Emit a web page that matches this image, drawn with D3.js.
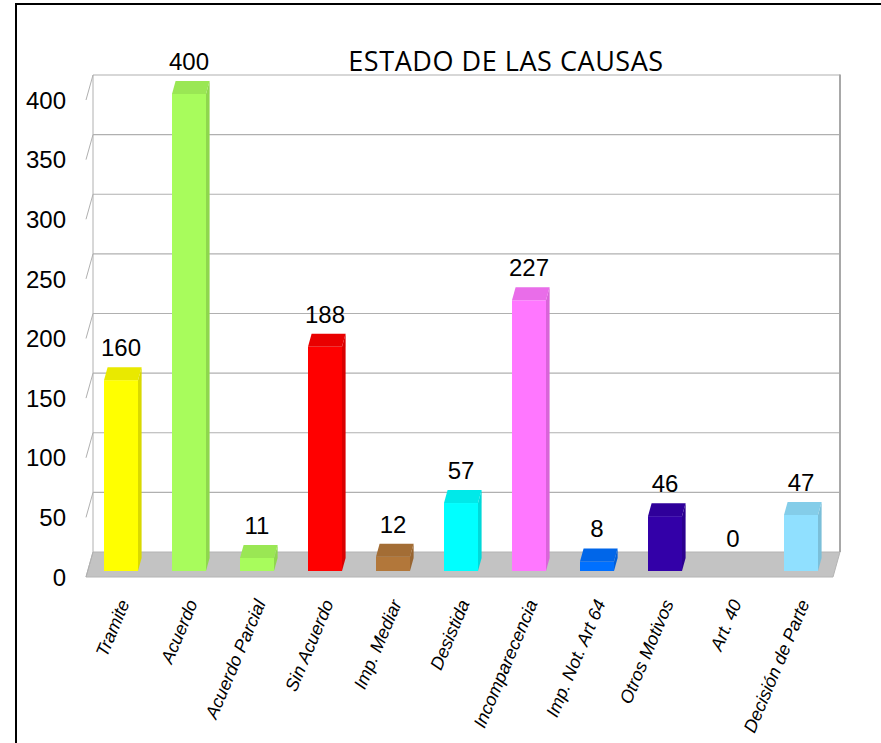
<!DOCTYPE html>
<html>
<head>
<meta charset="utf-8">
<script src="https://cdn.jsdelivr.net/npm/d3@7"></script>
<style>
  html, body { margin: 0; padding: 0; background: #fff; }
  svg { display: block; }
</style>
</head>
<body>
<svg id="chart" width="881" height="743"></svg>
<script>
const title = "ESTADO DE LAS CAUSAS";
const categories = ["Tramite", "Acuerdo", "Acuerdo Parcial", "Sin Acuerdo", "Imp. Mediar",
  "Desistida", "Incomparecencia", "Imp. Not.  Art 64", "Otros Motivos", "Art.  40", "Decisión de Parte"];
const values = [160, 400, 11, 188, 12, 57, 227, 8, 46, 0, 47];
const yTicks = [0, 50, 100, 150, 200, 250, 300, 350, 400];
const frontColors = ["#ffff00", "#a8fc5c", "#a8fc5c", "#ff0000", "#b2773a", "#00ffff",
  "#ff77ff", "#0070ff", "#3300a8", "#8080ff", "#90e0ff"];

const svg = d3.select("#chart");

// frame
svg.append("path").attr("d", "M16,743 L16,4 L881,4").attr("fill", "none")
  .attr("stroke", "#000").attr("stroke-width", 2);

// geometry
const backLeft = 93, backRight = 840;
const backBase = 552, frontBase = 577, barBase = 571;
const depthDx = -7, depthDy = 25;
const h = d3.scaleLinear().domain([0, 400]).range([0, 477]);
const x = d3.scaleBand().domain(categories).range([87, 835]).paddingInner(0.5).paddingOuter(0.25);
const topDx = 3.6, topDy = 13;

// floor
svg.append("path")
  .attr("d", `M${backLeft},${backBase} L${backRight},${backBase} L${backRight + depthDx},${frontBase} L${backLeft + depthDx},${frontBase} Z`)
  .attr("fill", "#c3c3c3").attr("stroke", "#b4b4b4").attr("stroke-width", 1);

// back wall gridlines
const grid = svg.append("g").attr("stroke", "#b0b0b0").attr("fill", "none");
yTicks.forEach(v => {
  const yb = backBase - h(v);
  if (v > 0) grid.append("line").attr("x1", backLeft).attr("x2", backRight).attr("y1", yb).attr("y2", yb).attr("stroke-width", 1.2);
  grid.append("line").attr("x1", backLeft).attr("y1", yb).attr("x2", backLeft + depthDx).attr("y2", yb + depthDy).attr("stroke-width", 1);
});
grid.append("line").attr("x1", backLeft).attr("x2", backLeft).attr("y1", backBase - h(400)).attr("y2", backBase).attr("stroke-width", 1);
grid.append("line").attr("x1", backRight).attr("x2", backRight).attr("y1", backBase - h(400) - 0.5).attr("y2", backBase).attr("stroke-width", 2).attr("stroke", "#a8a8a8");

// y labels
svg.append("g").selectAll("text").data(yTicks).join("text")
  .attr("x", 66).attr("y", d => frontBase - h(d)).attr("dy", "0.36em")
  .attr("text-anchor", "end")
  .attr("font-family", "Liberation Sans, Arial, sans-serif").attr("font-size", 24)
  .attr("fill", "#000").text(d => d);

// bars
const bars = svg.append("g");
categories.forEach((c, i) => {
  const v = values[i];
  if (v <= 0) return;
  const x0 = x(c), w = x.bandwidth();
  const yt = barBase - h(v);
  const col = d3.color(frontColors[i]);
  const topCol = col.darker(0.25);
  const sideCol = col.darker(0.45);
  bars.append("rect").attr("x", x0).attr("y", yt).attr("width", w).attr("height", h(v)).attr("fill", col.formatHex());
  bars.append("path")
    .attr("d", `M${x0 + w},${barBase} L${x0 + w + topDx},${barBase - topDy} L${x0 + w + topDx},${yt - topDy} L${x0 + w},${yt} Z`)
    .attr("fill", sideCol.formatHex());
  bars.append("path")
    .attr("d", `M${x0},${yt} L${x0 + w},${yt} L${x0 + w + topDx},${yt - topDy} L${x0 + topDx},${yt - topDy} Z`)
    .attr("fill", topCol.formatHex());
});

// value labels
svg.append("g").selectAll("text").data(categories).join("text")
  .attr("x", d => x(d) + x.bandwidth() / 2)
  .attr("y", (d, i) => barBase - h(values[i]) - topDy - 11)
  .attr("text-anchor", "middle")
  .attr("font-family", "Liberation Sans, Arial, sans-serif").attr("font-size", 24)
  .attr("fill", "#000").text((d, i) => values[i]);

// category labels
svg.append("g").selectAll("text").data(categories).join("text")
  .attr("transform", d => `translate(${x(d) + x.bandwidth() / 2 + 4},${601}) rotate(-67)`)
  .attr("text-anchor", "end").attr("dy", "0.3em")
  .attr("font-family", "Liberation Sans, Arial, sans-serif").attr("font-size", 18)
  .attr("font-style", "italic")
  .attr("fill", "#000").text(d => d);

// title
svg.append("text").attr("x", 506).attr("y", 71).attr("text-anchor", "middle")
  .attr("font-family", "Open Sans, sans-serif").attr("font-size", 27)
  .attr("letter-spacing", 0.55)
  .attr("fill", "#000").text(title);
</script>
</body>
</html>
